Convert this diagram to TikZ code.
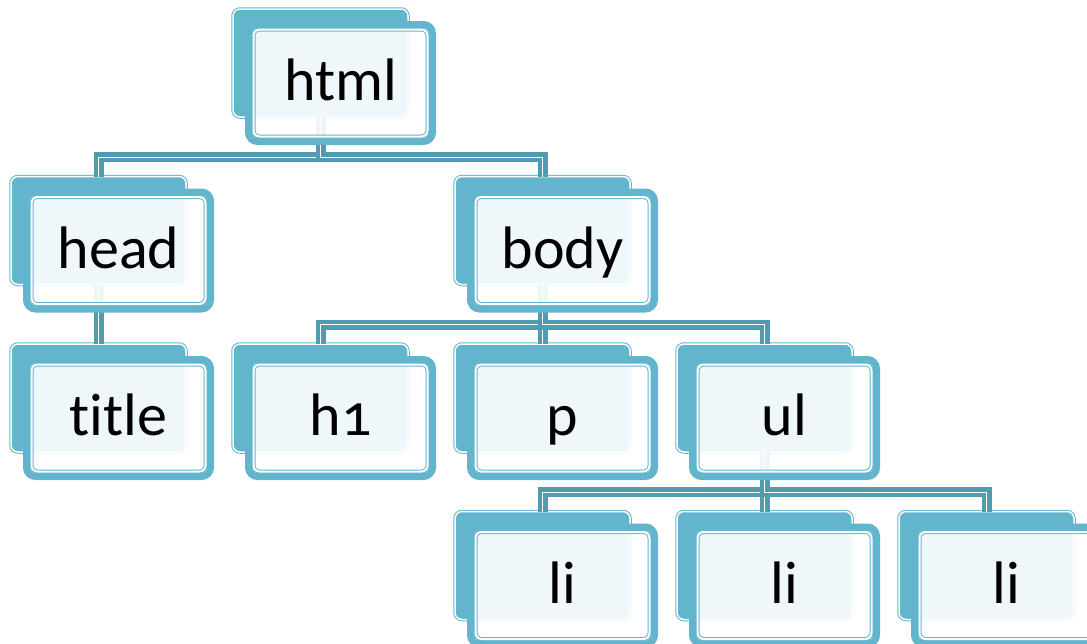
\documentclass[tikz,border=0pt]{standalone}
\usepackage{fontspec}
\setmainfont{Carlito}[Numbers=OldStyle, Ligatures=NoCommon]
\usepackage{tikz}
\usepackage{color}

\definecolor{boxblue}{RGB}{98,181,204}
\definecolor{linkblue}{RGB}{80,155,176}

\begin{document}
\begin{tikzpicture}[%
      x=0.5pt, y=-0.5pt,
      backbox/.style={fill=boxblue, draw=boxblue, line width=0.5pt, double=white,
        double distance=0.75pt, rounded corners=3.5pt, inner sep=0pt, outer sep=0pt,
        minimum width=87.5pt, minimum height=54pt},
      frontbox/.style={fill=white, fill opacity=0.9, text opacity=1, draw=boxblue,
        line width=3.5pt, rounded corners=4.5pt, inner sep=0pt, outer sep=0pt,
        minimum width=92pt, minimum height=58.5pt, text height=22pt, text depth=4.5pt,
        font=\fontsize{30}{36}\selectfont},
      innerline/.style={draw=boxblue, line width=0.5pt, double=white,
        double distance=1pt, rounded corners=3pt},
      link/.style={draw=linkblue, line width=2.25pt, double=white, double distance=0.5pt},
      ]
      \useasboundingbox (0,0) rectangle (1087,643);
      \clip (0,0) rectangle (1087,643);

      \def\domlist{html/340.5/83/html, head/118.5/250.5/head, body/562.5/250.5/body,
        title/118.5/418/title, h1/340.5/418/h1, p/562.5/418/p, ul/784.5/418/ul,
        li1/562.5/585.5/li, li2/784.5/585.5/li, li3/1006.5/585.5/li}

      \foreach \n/\x/\y/\t in \domlist
        \node [backbox] (\n-b) at (\x-20,\y-20) {};

      \draw [link] (html-b.south) -- ++(0,40) -| (head-b.north);
      \draw [link] (html-b.south) -- ++(0,40) -| (body-b.north);
      \draw [link] (head-b.south) -- (title-b.north);
      \draw [link] (body-b.south) -- ++(0,40) -| (h1-b.north);
      \draw [link] (body-b.south) -- ++(0,40) -| (p-b.north);
      \draw [link] (body-b.south) -- ++(0,40) -| (ul-b.north);
      \draw [link] (ul-b.south) -- ++(0,40) -| (li1-b.north);
      \draw [link] (ul-b.south) -- ++(0,40) -| (li2-b.north);
      \draw [link] (ul-b.south) -- ++(0,40) -| (li3-b.north);

      \foreach \n/\x/\y/\t in \domlist {
        \node [frontbox] (\n) at (\x,\y) {\t};
        \draw [innerline] ([shift={(5,5)}]\n.north west) rectangle ([shift={(-5,-5)}]\n.south east);
      }
      \end{tikzpicture}
\end{document}
